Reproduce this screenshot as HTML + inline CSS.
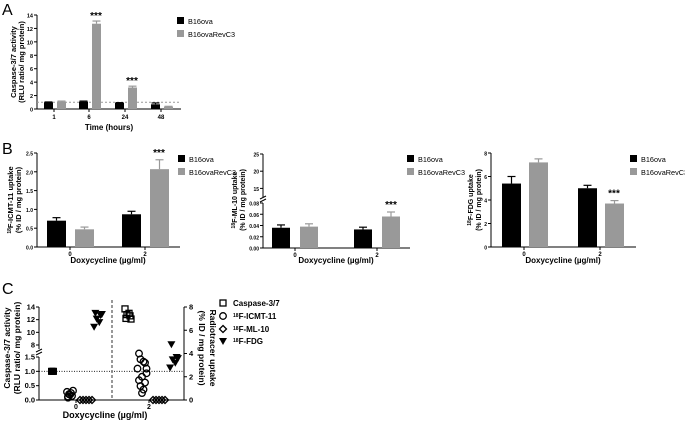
<!DOCTYPE html>
<html><head><meta charset="utf-8"><style>
body{margin:0;background:#fff;}
svg{display:block;font-family:"Liberation Sans",Arial,sans-serif;font-weight:bold;}
</style></head><body>
<svg id="fig" width="685" height="424" viewBox="0 0 685 424"></svg>
<script>
// Panel A data
const aCats=['1','6','24','48'];
const aBlack=[1.0,1.1,0.9,0.7];
const aBlackErr=[0.05,0.08,0.05,0.2];
const aGray=[1.1,12.7,3.2,0.35];
const aGrayErr=[0.08,0.4,0.2,0.05];
const aTicks=[0,2,4,6,8,10,12,14];
// Panel B1
const b1Cats=['0','2'];
const b1Black=[0.70,0.87];
const b1BlackErr=[0.08,0.08];
const b1Gray=[0.47,2.07];
const b1GrayErr=[0.06,0.25];
const b1Ticks=[0,0.5,1.0,1.5,2.0,2.5];
// Panel B2
const b2Black=[0.036,0.033];
const b2BlackErr=[0.005,0.004];
const b2Gray=[0.038,0.056];
const b2GrayErr=[0.005,0.008];
const b2TicksLow=[0,0.02,0.04,0.06,0.08];
const b2TicksHigh=[15,20,25];
// Panel B3
const b3Black=[5.4,5.0];
const b3BlackErr=[0.6,0.25];
const b3Gray=[7.2,3.7];
const b3GrayErr=[0.3,0.25];
const b3Ticks=[0,2,4,6,8];
// Panel C
const cCasp0=[1.0,1.0,1.0,1.0];
const cCasp2=[12.2,12.6,12.8,13.0,13.7,12.1];
const cIcmt0=[0.2,0.35,0.5,0.6,0.7,0.8,0.45,0.3];
const cIcmt2=[4.0,3.2,3.5,3.3,2.7,2.3,2.0,1.7,1.5,1.2,0.9,0.6,2.7];
const cMl0=[0,0,0,0,0];
const cMl2=[0,0,0,0,0];
const cFdg0=[7.5,7.3,7.0,6.7,6.3,7.4];
const cFdg2=[4.8,3.7,3.5,3.2,2.8,3.6];
const cJit=[-2,2,-1,1,-3,3,0,-2,2,-1,1,0,3];

const S='http://www.w3.org/2000/svg';
const svg=document.getElementById('fig');
let tickSize=5.5;
function el(tag,at,txt){const e=document.createElementNS(S,tag);for(const k in at)e.setAttribute(k,at[k]);if(txt!==undefined)e.textContent=txt;svg.appendChild(e);return e;}
function line(x1,y1,x2,y2,st){return el('line',Object.assign({x1,y1,x2,y2,stroke:'#000','stroke-width':1},st||{}));}
function text(x,y,t,sz,anc,extra){return el('text',Object.assign({x,y,'font-size':sz,'text-anchor':anc||'middle'},extra||{}),t);}
function lab(x,y,t,sz){const e=text(x,y,t,sz||16,'start',{'font-weight':'normal'});}
function ytitle(cx,cy,l1,l2,sz,gap){const g=document.createElementNS(S,'text');g.setAttribute('transform',`translate(${cx},${cy}) rotate(-90)`);g.setAttribute('font-size',sz||7.5);g.setAttribute('text-anchor','middle');

const t1=document.createElementNS(S,'tspan');t1.setAttribute('x',0);t1.setAttribute('y',0);t1.innerHTML=l1;g.appendChild(t1);
const t2=document.createElementNS(S,'tspan');t2.setAttribute('x',0);t2.setAttribute('y',gap||8);t2.textContent=l2;g.appendChild(t2);svg.appendChild(g);}
function bar(x0,x1,yv,y0,fill,err,yf){const r=el('rect',{x:x0,y:yf(yv),width:x1-x0,height:y0-yf(yv),fill});

const xc=(x0+x1)/2,ye=yf(yv+err);line(xc,yf(yv),xc,ye,{stroke:fill,'stroke-width':1.2});line(xc-4,ye,xc+4,ye,{stroke:fill,'stroke-width':1.2});}
function legend(x,y){const a=el('rect',{x,y:y-4,width:7,height:7,fill:'#000'});
const t=text(x+11,y+3,'B16ova',7.3,'start',{'font-weight':'normal'});
const b=el('rect',{x,y:y+9,width:7,height:7,fill:'#999'});
const u=text(x+11,y+16,'B16ovaRevC3',7.3,'start',{'font-weight':'normal'});}
function yaxis(x,ticks,yf,fmt,right){for(const t of ticks){const y=yf(t);line(right?x:x-3,y,right?x+3:x,y);const tt=text(right?x+5:x-4,y+2.5,fmt(t),tickSize,right?'start':'end');}}
function stars(x,y){const s=text(x,y,'***',10);}

// ===== Panel A =====
lab(2,15,'A');
{const ax=37,y0=109,y1=15,yf=v=>y0-(v/14)*(y0-y1);
const cx=[54,89,125,161];
line(ax,y1,ax,y0);line(ax,y0,181,y0);
yaxis(ax,aTicks,yf,t=>t);
line(ax,yf(1),181,yf(1),{stroke:'#999','stroke-dasharray':'2,2'});
aCats.forEach((c,i)=>{const x=cx[i];line(x,y0,x,y0+3);text(x,y0+10,c,6);
bar(x-10,x-1,aBlack[i],y0,'#000',aBlackErr[i],yf);bar(x+3,x+12,aGray[i],y0,'#999',aGrayErr[i],yf);
if(aGray[i]>2)stars(x+7,yf(aGray[i]+aGrayErr[i])-2);});
const xt=text(109,130,'Time (hours)',8);
ytitle(16,62,'Caspase-3/7 activity','(RLU ratio/ mg protein)');
legend(177,21);}

// ===== Panel B =====
tickSize=5;
lab(2,154,'B');
{const ax=37,y0=247,y1=153,yf=v=>y0-(v/2.5)*(y0-y1);const cx=[70,145];
line(ax,y1,ax,y0);line(ax,y0,180,y0);yaxis(ax,b1Ticks,yf,t=>t.toFixed(1));
b1Cats.forEach((c,i)=>{const x=cx[i];line(x,y0,x,y0+3);text(x,y0+9,c,6);
bar(x-23,x-4,b1Black[i],y0,'#000',b1BlackErr[i],yf);bar(x+5,x+24,b1Gray[i],y0,'#999',b1GrayErr[i],yf);});
stars(cx[1]+14,yf(b1Gray[1]+b1GrayErr[1])-4);
const xt=text(108,263,'Doxycycline (\u00b5g/ml)',8);
ytitle(13,200,'<tspan font-size="5" dy="-2">18</tspan><tspan dy="2">F-ICMT-11 uptake</tspan>','(% ID / mg protein)');
legend(178,159);}
{const ax=263,y0=248,yl=203,yf=v=>y0-(v/0.08)*(y0-yl);const yh=v=>197-((v-12.5)/12.5)*(197-154);const cx=[295,377];
line(ax,203,ax,y0);line(ax,154,ax,197);line(ax-3,199,ax+3,196);line(ax-3,202,ax+3,199);line(ax,y0,410,y0);
yaxis(ax,b2TicksLow,yf,t=>t.toFixed(2));yaxis(ax,b2TicksHigh,yh,t=>t);
b1Cats.forEach((c,i)=>{const x=cx[i];line(x,y0,x,y0+3);text(x,y0+9,c,6);
bar(x-23,x-5,b2Black[i],y0,'#000',b2BlackErr[i],yf);bar(x+5,x+23,b2Gray[i],y0,'#999',b2GrayErr[i],yf);});
stars(cx[1]+14,yf(b2Gray[1]+b2GrayErr[1])-4);
const xt=text(336,263,'Doxycycline (\u00b5g/ml)',8);
ytitle(237,200,'<tspan font-size="5" dy="-2">18</tspan><tspan dy="2">F-ML-10 uptake</tspan>','(% ID / mg protein)',7);
legend(407,159);}
{const ax=491,y0=247,y1=153,yf=v=>y0-(v/8)*(y0-y1);const cx=[524,600];
line(ax,y1,ax,y0);line(ax,y0,636,y0);yaxis(ax,b3Ticks,yf,t=>t);
b1Cats.forEach((c,i)=>{const x=cx[i];line(x,y0,x,y0+3);text(x,y0+9,c,6);
bar(x-22,x-3,b3Black[i],y0,'#000',b3BlackErr[i],yf);bar(x+5,x+24,b3Gray[i],y0,'#999',b3GrayErr[i],yf);});
stars(cx[1]+14,yf(b3Gray[1]+b3GrayErr[1])-4);
const xt=text(563,263,'Doxycycline (\u00b5g/ml)',8);
ytitle(473,200,'<tspan font-size="5" dy="-2">18</tspan><tspan dy="2">F-FDG uptake</tspan>','(% ID / mg protein)',7);
legend(630,159);}

// ===== Panel C =====
tickSize=7.5;
lab(2,294,'C');
{const ax=39,rx=184,y0=400;
const yl=v=>y0-(v/1.5)*(y0-357);
const yu=v=>345-((v-8)/6)*(345-307);
const yr=v=>400-(v/8)*(400-307);
const cx=[76,149];
line(ax,357,ax,y0);line(ax,307,ax,349);line(ax-3,352,ax+3,349);line(ax-3,355,ax+3,352);
line(rx,307,rx,400);line(ax,y0,rx,y0);
yaxis(ax,[0,0.5,1.0,1.5],yl,t=>t.toFixed(1));yaxis(ax,[8,10,12,14],yu,t=>t);
yaxis(rx,[0,2,4,6,8],yr,t=>t,true);
line(112,300,112,y0,{'stroke-dasharray':'3,2','stroke-width':0.8});
line(ax,yl(1),rx,yl(1),{'stroke-dasharray':'1,1.5','stroke-width':0.8});
['0','2'].forEach((c,i)=>{line(cx[i],y0,cx[i],y0+3);text(cx[i],y0+9,c,7);});
const xt=text(105,418,'Doxycycline (\u00b5g/ml)',9);
ytitle(10,348,'Caspase-3/7 activity','(RLU ratio/ mg protein)',8.5,10);
const rt=document.createElementNS(S,'text');rt.setAttribute('transform','translate(210,348) rotate(90)');rt.setAttribute('font-size','8.5');rt.setAttribute('text-anchor','middle');

rt.innerHTML='<tspan x="0" y="0">Radiotracer uptake</tspan><tspan x="0" y="11">(% ID / mg protein)</tspan>';svg.appendChild(rt);
function mark(type,x,y){let e;
if(type=='sq')e=el('rect',{x:x-3,y:y-3,width:6,height:6,fill:'none',stroke:'#000','stroke-width':1.3});
else if(type=='ci')e=el('circle',{cx:x,cy:y,r:3.3,fill:'none',stroke:'#000','stroke-width':1.3});
else if(type=='di')e=el('path',{d:`M${x},${y-3.5}L${x+3.5},${y}L${x},${y+3.5}L${x-3.5},${y}Z`,fill:'none',stroke:'#000','stroke-width':1.3});
else e=el('path',{d:`M${x-4},${y-3}L${x+4},${y-3}L${x},${y+4}Z`,fill:'#000'});
}
const capY=v=>v<=1.5?yl(v):yu(v);
cCasp0.forEach((v,i)=>{const r=el('rect',{x:cx[0]-27+cJit[i]*0.5,y:capY(v)-3.5,width:7,height:7,fill:'#000'});});
cCasp2.forEach((v,i)=>mark('sq',cx[1]-21+cJit[i],capY(v)));
cIcmt0.forEach((v,i)=>mark('ci',cx[0]-6+cJit[i],yr(v)));
cIcmt2.forEach((v,i)=>mark('ci',cx[1]-7+cJit[i]*1.5,yr(v)));
cMl0.forEach((v,i)=>mark('di',cx[0]+4+i*3,yr(v)));
cMl2.forEach((v,i)=>mark('di',cx[1]+4+i*3,yr(v)));
cFdg0.forEach((v,i)=>mark('tr',cx[0]+22+cJit[i]*1.3,yr(v)));
cFdg2.forEach((v,i)=>mark('tr',cx[1]+25+cJit[i]*1.3,yr(v)));
const ly=[303,316,329,341],lt=['Caspase-3/7','<tspan font-size="5" dy="-2">18</tspan><tspan dy="2">F-ICMT-11</tspan>','<tspan font-size="5" dy="-2">18</tspan><tspan dy="2">F-ML-10</tspan>','<tspan font-size="5" dy="-2">18</tspan><tspan dy="2">F-FDG</tspan>'],lm=['sq','ci','di','tr'];
ly.forEach((y,i)=>{mark(lm[i],223,y);const t=text(233,y+3,'',8,'start');t.innerHTML=lt[i];});
}
</script>
</body></html>
